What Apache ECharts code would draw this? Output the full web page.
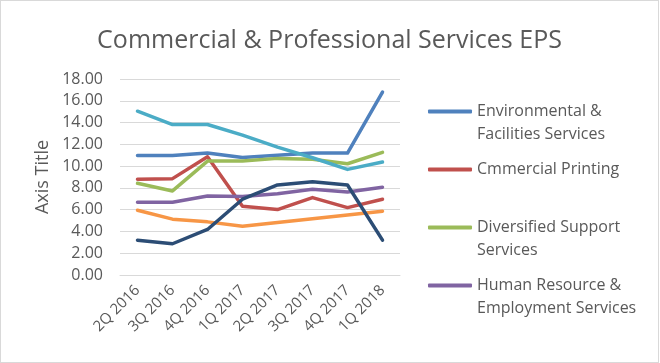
<!DOCTYPE html>
<html>
<head>
<meta charset="utf-8">
<script src="https://cdn.jsdelivr.net/npm/echarts@6/dist/echarts.min.js"></script>
<style>
html,body{margin:0;padding:0;background:#fff;}
#c{width:657px;height:361px;border:1px solid #d9d9d9;}
</style>
</head>
<body>
<div id="c"></div>
<script>
const categories = ['2Q 2016','3Q 2016','4Q 2016','1Q 2017','2Q 2017','3Q 2017','4Q 2017','1Q 2018'];
const seriesNames = ['Environmental & Facilities Services','Cmmercial Printing','Diversified Support Services','Human Resource & Employment Services','Office Services & Supplies','Security & Alarm Services','Research & Consulting Services'];
const environmental = [10.98,10.98,11.20,10.80,11.00,11.20,11.20,16.80];
const commercialPrinting = [8.79,8.85,10.86,6.31,6.01,7.11,6.19,6.96];
const diversified = [8.42,7.72,10.46,10.46,10.71,10.62,10.22,11.26];
const humanResource = [6.68,6.68,7.26,7.20,7.47,7.87,7.63,8.05];
const officeServices = [15.04,13.82,13.82,12.84,11.74,10.77,9.70,10.37];
const security = [5.95,5.13,4.88,4.48,4.82,5.16,5.52,5.86];
const research = [3.20,2.87,4.18,6.96,8.27,8.57,8.27,3.20];
const yTicks = {min:0,max:18,interval:2};
const colors = ['#4F81BD','#C0504D','#9BBB59','#8064A2','#4BACC6','#F79646','#2C4D75'];
const values = [environmental,commercialPrinting,diversified,humanResource,officeServices,security,research];
const legendText = {
  'Environmental & Facilities Services':'\u00a0\nEnvironmental &\nFacilities Services',
  'Cmmercial Printing':'\u00a0\nCmmercial Printing\n\u00a0',
  'Diversified Support Services':'\u00a0\nDiversified Support\nServices',
  'Human Resource & Employment Services':'\u00a0\nHuman Resource &\nEmployment Services'
};
const FONT = 'Open Sans';
const chart = echarts.init(document.getElementById('c'));
chart.setOption({
  animation:false,
  color:colors,
  title:{text:'Commercial & Professional Services EPS',left:'center',top:22,
    textStyle:{fontFamily:FONT,fontSize:25,fontWeight:'normal',color:'#595959'}},
  grid:{left:119,top:78,width:280,height:196,containLabel:false},
  legend:{orient:'vertical',left:427,top:76,padding:0,itemWidth:44,itemHeight:4,itemGap:-11,
    icon:'roundRect',
    data:seriesNames.slice(0,4),
    formatter:n=>legendText[n]||n,
    textStyle:{fontFamily:FONT,fontSize:16,color:'#595959',lineHeight:23}},
  xAxis:{type:'category',data:categories,boundaryGap:true,
    axisLine:{lineStyle:{color:'#d9d9d9'}},axisTick:{show:false},
    axisLabel:{rotate:45,color:'#595959',fontFamily:FONT,fontSize:15,margin:13,interval:0}},
  yAxis:{type:'value',min:yTicks.min,max:yTicks.max,interval:yTicks.interval,
    name:'Axis Title',nameLocation:'middle',nameGap:68,
    nameTextStyle:{fontFamily:FONT,fontSize:18,color:'#595959'},
    axisLine:{show:false},axisTick:{show:false},
    splitLine:{lineStyle:{color:'#d9d9d9',width:1}},
    axisLabel:{formatter:v=>v.toFixed(2),color:'#595959',fontFamily:FONT,fontSize:16,margin:17}},
  series:seriesNames.map((n,i)=>({name:n,type:'line',data:values[i],symbol:'none',
    lineStyle:{width:3.5,color:colors[i],cap:'round',join:'round'},itemStyle:{color:colors[i]}}))
});
</script>
</body>
</html>
